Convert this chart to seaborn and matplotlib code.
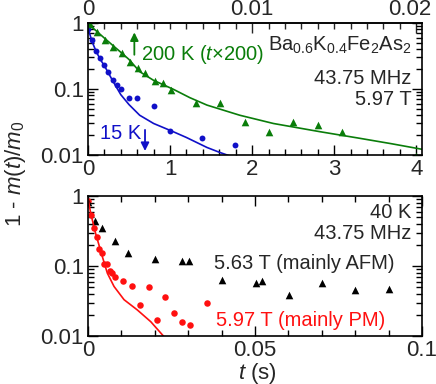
import matplotlib
matplotlib.use("Agg")
import matplotlib.pyplot as plt
import matplotlib.ticker as mticker
import matplotlib.transforms as mtrans
import seaborn as sns
import numpy as np

sns.set_style("ticks")
plt.rcParams.update({
    "font.family": ["Liberation Sans", "DejaVu Sans"],
    "mathtext.fontset": "custom",
    "mathtext.rm": "Liberation Sans",
    "mathtext.it": "Liberation Sans:italic",
    "mathtext.bf": "Liberation Sans:bold",
    "xtick.direction": "in",
    "ytick.direction": "in",
})

GREEN = "#0a7d0a"
BLUE = "#1010c8"
RED = "#ff1010"

# ---- top panel: 15 K (t in s) ----
t15 = [0.0, 0.05, 0.10, 0.15, 0.20, 0.25, 0.30, 0.35, 0.40, 0.50, 0.60, 0.80, 1.00, 1.39, 1.79]
m15 = [0.80, 0.55, 0.37, 0.29, 0.23, 0.18, 0.135, 0.114, 0.099, 0.072, 0.072, 0.056, 0.023, 0.018, 0.014]
fit15_t = [0.0, 0.05, 0.10, 0.15, 0.20, 0.30, 0.40, 0.50, 0.63, 0.80, 1.04, 1.20, 1.45, 1.60, 1.80]
fit15_m = [0.84, 0.52, 0.37, 0.28, 0.225, 0.134, 0.082, 0.058, 0.040, 0.030, 0.0225, 0.0184, 0.013, 0.011, 0.009]

# ---- top panel: 200 K (t x 200) ----
t200 = [0.02, 0.11, 0.21, 0.31, 0.41, 0.51, 0.61, 0.70, 0.82, 0.91, 1.01, 1.32, 1.61,
        1.91, 2.21, 2.50, 2.80, 3.10, 4.00]
m200 = [0.95, 0.74, 0.55, 0.44, 0.35, 0.26, 0.21, 0.177, 0.134, 0.125, 0.097, 0.061, 0.062,
        0.032, 0.0225, 0.032, 0.028, 0.0223, 0.0098]
fit200_t = [0.0, 0.1, 0.2, 0.3, 0.4, 0.5, 0.63, 0.8, 1.04, 1.24, 1.45, 1.85, 2.26, 2.83,
            3.3, 3.7, 4.07]
fit200_m = [0.97, 0.76, 0.59, 0.46, 0.36, 0.28, 0.183, 0.135, 0.099, 0.074, 0.057, 0.040,
            0.030, 0.0225, 0.018, 0.0148, 0.0122]

# ---- bottom panel: 40 K ----
t_pm = [0.0001, 0.0008, 0.0017, 0.0026, 0.0033, 0.0041, 0.0047, 0.0057, 0.0066, 0.0073, 0.0081,
        0.0106, 0.0132, 0.0157, 0.0182, 0.0207, 0.0231, 0.0257, 0.0281, 0.0306, 0.0356]
m_pm = [0.86, 0.54, 0.345, 0.257, 0.173, 0.155, 0.107, 0.107, 0.086, 0.079, 0.069,
        0.062, 0.052, 0.028, 0.050, 0.017, 0.036, 0.021, 0.0157, 0.0144, 0.030]
fit_pm_t = [0.0, 0.0008, 0.0023, 0.0043, 0.0058, 0.0078, 0.0108, 0.0148, 0.0188, 0.0225, 0.0235]
fit_pm_m = [0.93, 0.57, 0.29, 0.136, 0.079, 0.051, 0.033, 0.0235, 0.016, 0.0101, 0.0090]

t_afm = [0.0, 0.0021, 0.0041, 0.0081, 0.0121, 0.0201, 0.0281, 0.0301, 0.0400, 0.0502,
         0.0520, 0.0602, 0.0701, 0.0801, 0.0901]
m_afm = [0.83, 0.44, 0.345, 0.228, 0.152, 0.126, 0.119, 0.117, 0.063, 0.058,
         0.061, 0.0385, 0.058, 0.045, 0.047]

fig = plt.figure(figsize=(4.36, 3.84), dpi=100)
ax1 = fig.add_axes([0.2018, 0.5964, 0.766, 0.34375])
ax2 = fig.add_axes([0.2018, 0.125, 0.766, 0.3646])

FS_TICK = 16
FS_TXT = 14.5


def style_axis(ax):
    ax.set_yscale("log")
    ax.set_ylim(0.01, 1)
    ax.yaxis.set_major_locator(mticker.FixedLocator([0.01, 0.1, 1]))
    ax.yaxis.set_major_formatter(mticker.FixedFormatter(["0.01", "0.1", "1"]))
    ax.yaxis.set_minor_locator(mticker.LogLocator(base=10, subs=np.arange(2, 10)))
    ax.yaxis.set_minor_formatter(mticker.NullFormatter())
    ax.tick_params(which="both", direction="in", right=True, labelsize=FS_TICK,
                   color="black", width=1.0)
    ax.tick_params(which="major", length=7, pad=3)
    ax.tick_params(which="minor", length=4)
    for s in ax.spines.values():
        s.set_linewidth(1.2)
        s.set_color("black")
    ax.set_xlabel("")
    ax.set_ylabel("")


# ----- top panel -----
sns.lineplot(x=fit15_t, y=fit15_m, color=BLUE, lw=1.2, ax=ax1, sort=False)
sns.lineplot(x=fit200_t, y=fit200_m, color=GREEN, lw=1.2, ax=ax1, sort=False)
sns.scatterplot(x=t15, y=m15, color=BLUE, marker="o", s=18, edgecolor=BLUE, linewidth=0, ax=ax1)
sns.scatterplot(x=t200, y=m200, color=GREEN, marker="^", s=30, edgecolor=GREEN, linewidth=0, ax=ax1)
style_axis(ax1)
ax1.set_xlim(0, 4.07)
ax1.xaxis.set_major_locator(mticker.MultipleLocator(1))
ax1.xaxis.set_minor_locator(mticker.MultipleLocator(0.2))
ax1.xaxis.set_major_formatter(mticker.FormatStrFormatter("%d"))
ax1.tick_params(axis="x", which="both", top=False)

# top axis: t for the 200 K data (t = bottom / 200)
sec = ax1.secondary_xaxis("top", functions=(lambda x: x / 200.0, lambda x: x * 200.0))
sec.xaxis.set_major_locator(mticker.FixedLocator([0, 0.01, 0.02]))
sec.xaxis.set_major_formatter(mticker.FixedFormatter(["0", "0.01", ""]))
sec.xaxis.set_minor_locator(mticker.MultipleLocator(0.001))
sec.tick_params(which="both", direction="in", labelsize=FS_TICK, width=1.0)
sec.tick_params(which="major", length=7, pad=2)
sec.tick_params(which="minor", length=4)
sec.spines["top"].set_linewidth(1.2)
# last top label pulled slightly inward so it fits in the figure
top_tr = mtrans.blended_transform_factory(ax1.transData, ax1.transAxes)
ax1.text(4.0, 1.0, "0.02", fontsize=FS_TICK, ha="center", va="bottom",
         transform=top_tr + mtrans.ScaledTranslation(-6 / 100, 3 / 100, fig.dpi_scale_trans))

ax1.text(0.158, 0.758, r"200 K ($t$×200)", color=GREEN, fontsize=FS_TXT,
         transform=ax1.transAxes, ha="left", va="center")
ax1.annotate("", xy=(0.565, 0.72), xytext=(0.565, 0.33),
             arrowprops=dict(arrowstyle="-|>", color=GREEN, lw=1.3, mutation_scale=12,
                             shrinkA=0, shrinkB=0))
ax1.text(0.036, 0.159, "15 K", color=BLUE, fontsize=FS_TXT,
         transform=ax1.transAxes, ha="left", va="center")
ax1.annotate("", xy=(0.695, 0.0115), xytext=(0.695, 0.024),
             arrowprops=dict(arrowstyle="-|>", color=BLUE, lw=1.3, mutation_scale=12,
                             shrinkA=0, shrinkB=0))
ax1.text(0.969, 0.833, r"Ba$_{0.6}$K$_{0.4}$Fe$_2$As$_2$", fontsize=FS_TXT,
         transform=ax1.transAxes, ha="right", va="center")
ax1.text(0.969, 0.576, "43.75 MHz", fontsize=FS_TXT,
         transform=ax1.transAxes, ha="right", va="center")
ax1.text(0.969, 0.417, "5.97 T", fontsize=FS_TXT,
         transform=ax1.transAxes, ha="right", va="center")

# ----- bottom panel -----
sns.lineplot(x=fit_pm_t, y=fit_pm_m, color=RED, lw=1.2, ax=ax2, sort=False)
sns.scatterplot(x=t_pm, y=m_pm, color=RED, marker="o", s=22, edgecolor=RED, linewidth=0, ax=ax2)
sns.scatterplot(x=t_afm, y=m_afm, color="black", marker="^", s=30, edgecolor="black",
                linewidth=0, ax=ax2)
style_axis(ax2)
ax2.set_xlim(0, 0.1)
ax2.xaxis.set_major_locator(mticker.FixedLocator([0, 0.05, 0.1]))
ax2.xaxis.set_major_formatter(mticker.FixedFormatter(["0", "0.05", "0.1"]))
ax2.xaxis.set_minor_locator(mticker.MultipleLocator(0.01))
ax2.tick_params(axis="x", which="both", top=True)

ax2.text(0.967, 0.879, "40 K", fontsize=FS_TXT, transform=ax2.transAxes,
         ha="right", va="center")
ax2.text(0.967, 0.729, "43.75 MHz", fontsize=FS_TXT, transform=ax2.transAxes,
         ha="right", va="center")
ax2.text(0.377, 0.521, "5.63 T (mainly AFM)", fontsize=FS_TXT, transform=ax2.transAxes,
         ha="left", va="center")
ax2.text(0.383, 0.114, "5.97 T (mainly PM)", color=RED, fontsize=FS_TXT,
         transform=ax2.transAxes, ha="left", va="center")

fig.text(257 / 436, 1 - 373 / 384, r"$t$ (s)", fontsize=FS_TICK, ha="center", va="center")
fig.text(15 / 436, 1 - 174 / 384, r"1 - $m(t)/m_0$", fontsize=FS_TICK, ha="center",
         va="center", rotation=90)

fig.savefig("out.png", dpi=100)
